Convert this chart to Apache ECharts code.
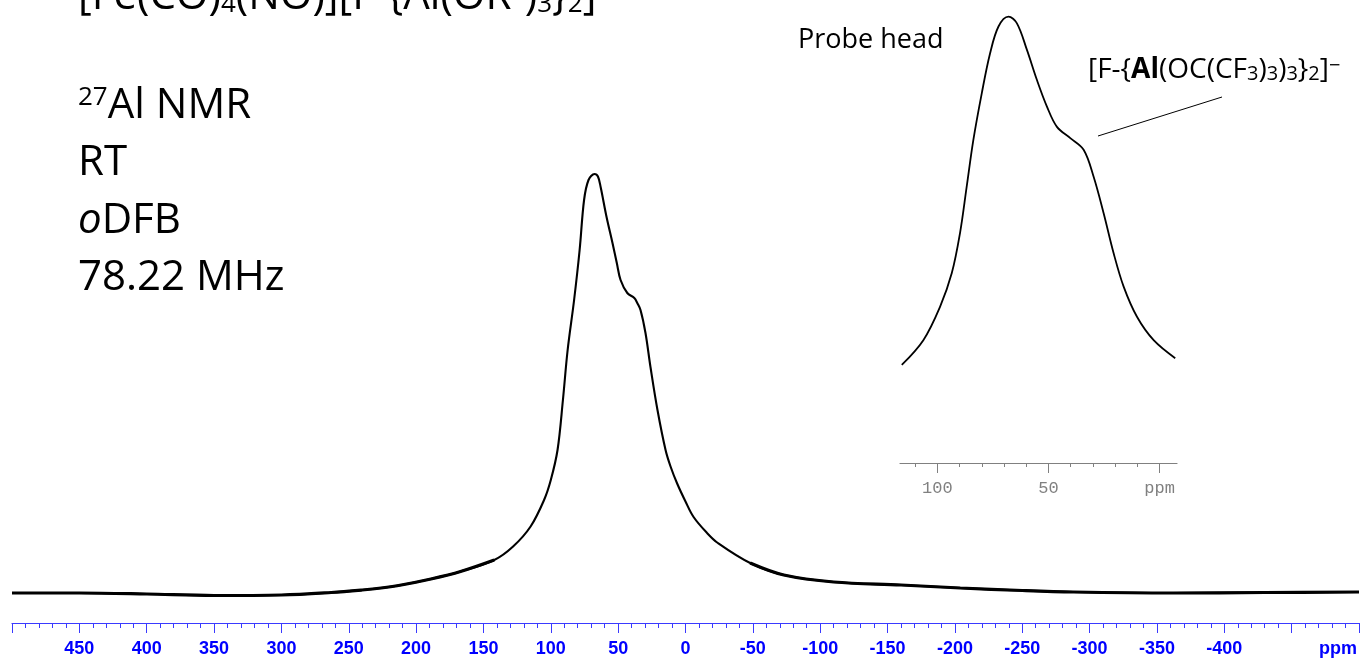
<!DOCTYPE html>
<html lang="en">
<head>
<meta charset="UTF-8">
<title>27Al NMR</title>
<style>
    html, body { margin: 0; height: 100%; background: #fff; }
    #main { width: 1362px; height: 660px; }
</style>
<script src="https://cdn.jsdelivr.net/npm/echarts@6.0.0/dist/echarts.min.js"></script>
</head>
<body>
<div id="main"></div>
<script>
    // main spectrum: shift in ppm, intensity on a 0-100 scale
    var mainPpm = [500, 450, 400, 350, 300, 263, 240, 226, 211, 189, 167, 142, 128, 115, 105, 100, 95, 91, 87.5, 82.7,
        78.6, 75.3, 72, 67.5, 65, 63, 58.6, 54.2, 51, 48.2, 43.2, 38, 35.8, 33.4, 29.7, 26, 20.8,
        14.8, 11.1, 6.2, 0, -6, -16, -24, -48, -73, -110, -160, -204, -250, -288, -362, -430, -500];
    var mainInt = [6.0, 6.0, 5.8, 5.5, 5.6, 6.1, 6.6, 7.0, 7.6, 8.8, 10.3, 12.6, 15.3, 19.3, 24.6, 28.6, 34.6, 44.6, 54.6, 64.6,
        74.6, 84.6, 88.6, 89.8, 89.3, 87.2, 81.2, 76, 72, 68.6, 66, 65, 64, 62.6, 58, 51.2, 42.6,
        34.6, 31.3, 27.9, 24.3, 21.2, 18, 16, 12, 9.6, 8.2, 7.6, 7.0, 6.5, 6.2, 6.0, 6.1, 6.2];

    // inset (probe head), own scale
    var insetPpm = [116.0, 106.3, 98.8, 93.5, 89.8, 86.8, 83.8, 80.0, 76.3, 72.5, 68.0, 64.2, 59.7, 55.2, 50.7,
        46.2, 40.2, 34.2, 29.7, 25.2, 20.7, 16.2, 10.2, 2.7, -7.0];
    var insetInt = [21.8, 27.3, 34.7, 42.2, 51.1, 61.4, 71.8, 82.2, 91.0, 97.0, 99.2, 97.7, 91.8, 85.1, 79.2,
        74.7, 72.2, 69.6, 63.6, 55.5, 46.6, 39.2, 32.5, 27.3, 23.3];

    var insetMajor = [100, 50, 0];
    var insetMinor = [110, 90, 80, 70, 60, 40, 30, 20, 10];

    var mainData = mainPpm.map(function (p, i) { return [p, mainInt[i]]; });
    // noisy wings drawn a bit thicker
    var wingData = mainPpm.map(function (p, i) { return [p, mainInt[i] <= 12.6 ? mainInt[i] : '-']; });
    var insetData = insetPpm.map(function (p, i) { return [p, insetInt[i]]; });

    var chart = echarts.init(document.getElementById('main'));

    var blue = '#0000ff';
    var gray = '#808080';
    var txt = 'Open Sans';

    var option = {
        animation: false,
        grid: [
            {left: 12, right: 2, top: 123, bottom: 37},
            {left: 900, right: 185, top: 13, bottom: 197}
        ],
        xAxis: [
            {
                type: 'value', gridIndex: 0, min: -500, max: 500, interval: 50, inverse: true,
                splitLine: {show: false},
                axisLine: {lineStyle: {color: '#3a3aff', width: 1.2}},
                axisTick: {length: 10, lineStyle: {color: '#3a3aff'}},
                minorTick: {show: true, splitNumber: 5, length: 5, lineStyle: {color: '#3a3aff'}},
                axisLabel: {
                    margin: 17, color: blue, fontSize: 18, fontWeight: 'bold', fontFamily: 'Liberation Sans',
                    formatter: function (v) { return (v >= 500 || v <= -450) ? '' : v; }
                }
            },
            {
                type: 'value', gridIndex: 1, min: -7.8, max: 116.8, inverse: true, position: 'bottom',
                splitLine: {show: false},
                axisLine: {lineStyle: {color: gray, width: 1.2}},
                axisTick: {customValues: insetMajor, length: 10, lineStyle: {color: gray}},
                axisLabel: {
                    customValues: insetMajor, margin: 17, color: gray, fontSize: 17, fontFamily: 'Liberation Mono',
                    formatter: function (v) { return v === 0 ? 'ppm' : v; }
                }
            },
            {
                type: 'value', gridIndex: 1, min: -7.8, max: 116.8, inverse: true, position: 'bottom',
                splitLine: {show: false},
                axisLine: {show: false},
                axisTick: {customValues: insetMinor, length: 4, lineStyle: {color: gray}},
                axisLabel: {show: false}
            }
        ],
        yAxis: [
            {type: 'value', gridIndex: 0, min: 0, max: 100, show: false},
            {type: 'value', gridIndex: 1, min: 0, max: 100, show: false}
        ],
        series: [
            {
                type: 'line', xAxisIndex: 0, yAxisIndex: 0, data: mainData, symbol: 'none', smooth: 0.35,
                lineStyle: {color: '#000', width: 2.1}
            },
            {
                type: 'line', xAxisIndex: 0, yAxisIndex: 0, data: wingData, symbol: 'none', smooth: 0.35,
                connectNulls: false, lineStyle: {color: '#000', width: 3.2}
            },
            {
                type: 'line', xAxisIndex: 1, yAxisIndex: 1, data: insetData, symbol: 'none', smooth: 0.35,
                lineStyle: {color: '#000', width: 1.8}
            }
        ],
        graphic: [
            {
                type: 'text', x: 78, y: -3,
                style: {
                    text: '[Fe(CO){sub|4}(NO)][F-{Al(OR{sup|F}){sub|3}}{sub|2}]',
                    fontSize: 42, fontFamily: txt, fill: '#000', verticalAlign: 'middle',
                    rich: {
                        sub: {fontSize: 26, fontFamily: txt, verticalAlign: 'bottom'},
                        sup: {fontSize: 26, fontFamily: txt, verticalAlign: 'top'}
                    }
                }
            },
            {
                type: 'text', x: 78, y: 106,
                style: {
                    text: '{sup|27}Al NMR', fontSize: 42, fontFamily: txt, fill: '#000', verticalAlign: 'middle',
                    rich: {sup: {fontSize: 26, fontFamily: txt, verticalAlign: 'top'}}
                }
            },
            {
                type: 'text', x: 78, y: 163,
                style: {text: 'RT', fontSize: 42, fontFamily: txt, fill: '#000', verticalAlign: 'middle'}
            },
            {
                type: 'text', x: 78, y: 221,
                style: {
                    text: '{it|o}DFB', fontSize: 42, fontFamily: txt, fill: '#000', verticalAlign: 'middle',
                    rich: {it: {fontSize: 42, fontFamily: txt, fontStyle: 'italic'}}
                }
            },
            {
                type: 'text', x: 78, y: 278,
                style: {text: '78.22 MHz', fontSize: 42, fontFamily: txt, fill: '#000', verticalAlign: 'middle'}
            },
            {
                type: 'text', x: 798, y: 40,
                style: {text: 'Probe head', fontSize: 27, fontFamily: txt, fill: '#000', verticalAlign: 'middle'}
            },
            {
                type: 'text', x: 1088, y: 70,
                style: {
                    text: '[F-{{b|Al}(OC(CF{sub|3}){sub|3}){sub|3}}{sub|2}]{sup|\u2212}',
                    fontSize: 28, fontFamily: txt, fill: '#000', verticalAlign: 'middle',
                    rich: {
                        b: {fontSize: 28, fontFamily: txt, fontWeight: 'bold'},
                        sub: {fontSize: 20, fontFamily: txt, verticalAlign: 'bottom'},
                        sup: {fontSize: 20, fontFamily: txt, verticalAlign: 'top'}
                    }
                }
            },
            {
                type: 'line',
                shape: {x1: 1098, y1: 136, x2: 1222, y2: 97},
                style: {stroke: '#000', lineWidth: 1}
            },
            {
                type: 'text', x: 1338, y: 649,
                style: {
                    text: 'ppm', fontSize: 18, fontWeight: 'bold', fontFamily: 'Liberation Sans', fill: blue,
                    align: 'center', verticalAlign: 'middle'
                }
            }
        ]
    };

    chart.setOption(option);

    window.onresize = function () {
        chart.resize();
    };
</script>
</body>
</html>
